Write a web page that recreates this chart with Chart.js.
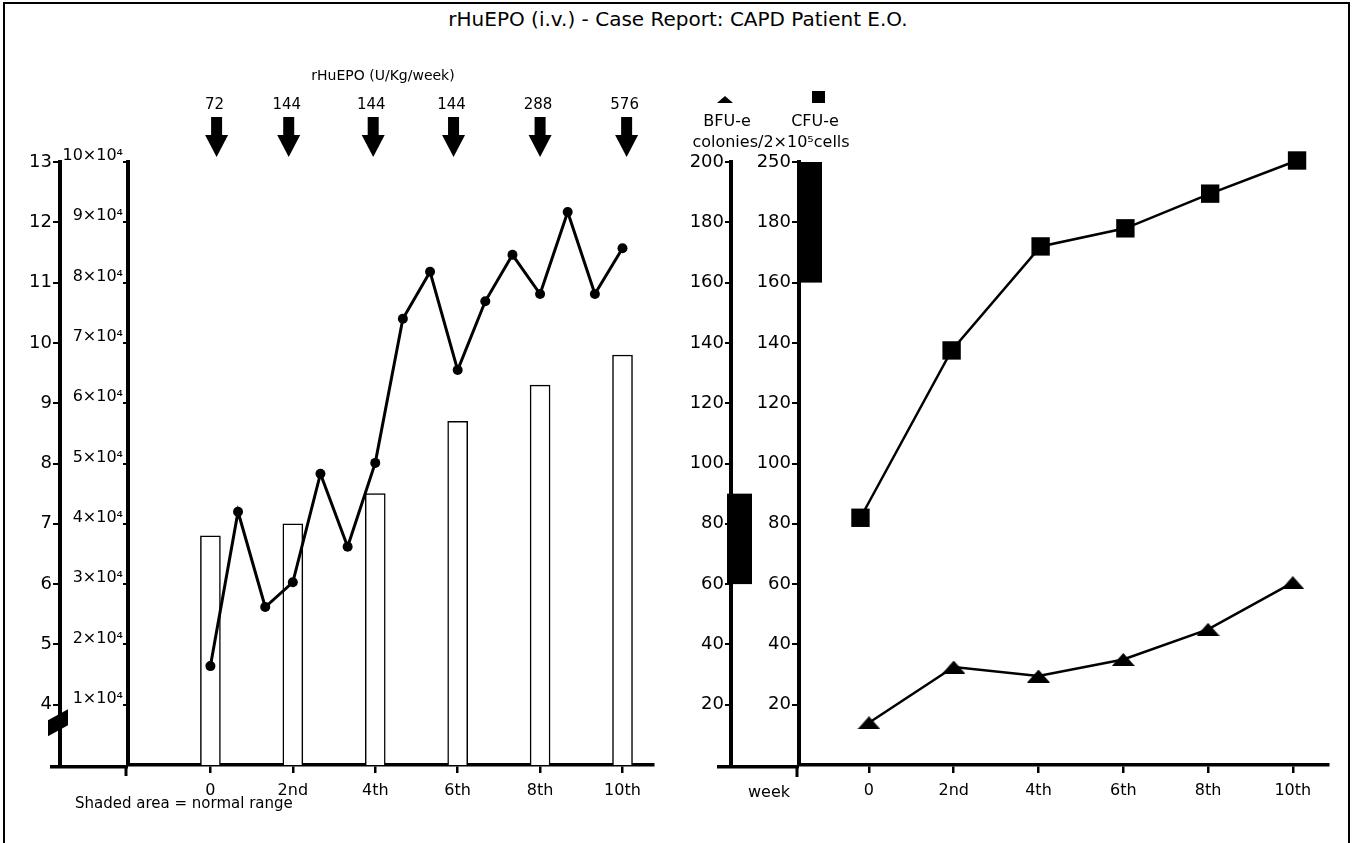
<!DOCTYPE html>
<html>
<head>
<meta charset="utf-8">
<title>rHuEPO case report</title>
<script src="https://cdn.jsdelivr.net/npm/chart.js@4.4.1/dist/chart.umd.min.js"></script>
<style>
  html, body { margin: 0; padding: 0; background: #fff; }
  body { width: 1356px; height: 843px; position: relative; overflow: hidden; font-family: "DejaVu Sans", sans-serif; color: #000; }
  #frame { position: absolute; left: 3px; top: 2px; width: 1343px; height: 870px; border: 2px solid #000; }
  canvas { position: absolute; left: 0; top: 0; }
  #title { position: absolute; top: 7px; left: 0; width: 1356px; text-align: center; font-size: 20px; }
  #note { position: absolute; left: 75px; top: 794px; font-size: 15px; }
</style>
</head>
<body>
<div id="frame"></div>
<div id="title">rHuEPO (i.v.) - Case Report: CAPD Patient E.O.</div>
<canvas id="left" width="1356" height="843"></canvas>
<canvas id="right" width="1356" height="843"></canvas>
<div id="note">Shaded area = normal range</div>
<script>
// weeks of treatment
const weekTicks = [0, 2, 4, 6, 8, 10];
const weekLabels = ["0", "2nd", "4th", "6th", "8th", "10th"];

// left panel: open bars (4-13 axis) and dotted line (x10^4 axis)
const hbWeeks = [0, 2, 4, 6, 8, 10];
const hbValues = [6.8, 7.0, 7.5, 8.7, 9.3, 9.8];
const retWeeks = [0, 0.67, 1.33, 2, 2.67, 3.33, 4, 4.67, 5.33, 6, 6.67, 7.33, 8, 8.67, 9.33, 10];
const retValues = [1.64, 4.2, 2.62, 3.03, 4.83, 3.62, 5.01, 7.4, 8.18, 6.55, 7.69, 8.46, 7.81, 9.17, 7.81, 8.57];
const hbTicks = [4, 5, 6, 7, 8, 9, 10, 11, 12, 13];
const retTicks = [1, 2, 3, 4, 5, 6, 7, 8, 9, 10];

// rHuEPO doses
const doseWeeks = [0.15, 1.9, 3.95, 5.9, 8.0, 10.1];
const doseLabels = ["72", "144", "144", "144", "288", "576"];

// right panel: colonies / 2x10^5 cells
const bfuWeeks = [0, 2, 4, 6, 8, 10];
const bfuValues = [14, 32.5, 29.5, 35, 45, 60.5];
const cfuWeeks = [-0.2, 1.95, 4.05, 6.05, 8.05, 10.1];
const cfuValues = [82, 137.5, 172, 178, 189.5, 200.5];
const bfuTicks = [20, 40, 60, 80, 100, 120, 140, 160, 180, 200];
const cfuTicks = [20, 40, 60, 80, 100, 120, 140, 160, 180, 200];
const cfuTickLabels = ["20", "40", "60", "80", "100", "120", "140", "160", "180", "250"];
// normal ranges (axis units; top of the CFU-e axis is the 250 mark)
const bfuNormal = [60, 90];
const cfuNormal = [160, 200];

const FONT = '"DejaVu Sans", sans-serif';
Chart.defaults.font.family = FONT;
Chart.defaults.color = "#000";

function pts(xs, ys) {
  return xs.map((x, i) => ({ x: x, y: ys[i] }));
}
function useTicks(list) {
  return function (scale) {
    scale.ticks = list.map((v) => ({ value: v }));
  };
}
function fixWidth(w) {
  return function (scale) {
    scale.width = w;
    scale.paddingTop = 0;
    scale.paddingBottom = 0;
  };
}
function fixHeight(h) {
  return function (scale) {
    scale.height = h;
    scale.paddingLeft = 0;
    scale.paddingRight = 0;
  };
}
function yAxis(opts) {
  return {
    type: "linear",
    position: "left",
    weight: opts.weight,
    min: opts.min,
    max: opts.max,
    afterBuildTicks: useTicks(opts.ticks),
    afterFit: fixWidth(opts.width),
    border: { display: true, color: "#000", width: 4 },
    grid: { drawOnChartArea: false, drawTicks: true, tickLength: opts.tickLength, color: "#000", lineWidth: 2 },
    ticks: {
      font: { size: opts.fontSize },
      padding: opts.padding,
      labelOffset: opts.labelOffset || 0,
      callback: opts.callback,
    },
  };
}
function weekAxis(min, max) {
  return {
    type: "linear",
    min: min,
    max: max,
    offset: false,
    afterBuildTicks: useTicks(weekTicks),
    afterFit: fixHeight(40),
    border: { display: true, color: "#000", width: 3.5 },
    grid: { offset: false, drawOnChartArea: false, drawTicks: true, tickLength: 8, color: "#000", lineWidth: 2.5 },
    ticks: {
      font: { size: 16 },
      padding: 8,
      maxRotation: 0,
      autoSkip: false,
      callback: (v) => weekLabels[weekTicks.indexOf(v)],
    },
  };
}

const leftExtras = {
  id: "leftExtras",
  afterDraw(chart) {
    const { ctx, chartArea, scales } = chart;
    const x = scales.x, yHb = scales.yHb, yRet = scales.yRet;
    ctx.save();
    ctx.fillStyle = "#000";
    ctx.strokeStyle = "#000";

    // baseline runs on under both y axes
    ctx.lineWidth = 3.5;
    ctx.beginPath();
    ctx.moveTo(yHb.right - 10, x.top + 1.75);
    ctx.lineTo(chartArea.left, x.top + 1.75);
    ctx.stroke();

    // second axis pokes below the baseline
    ctx.lineWidth = 3;
    ctx.beginPath();
    ctx.moveTo(yRet.right - 2, x.top);
    ctx.lineTo(yRet.right - 2, x.top + 11);
    ctx.stroke();

    // axis break mark
    const bx = yHb.right - 2, by = yHb.getPixelForValue(3.7);
    ctx.beginPath();
    ctx.moveTo(bx - 10, by - 2.5);
    ctx.lineTo(bx + 10, by - 13.5);
    ctx.lineTo(bx + 10, by + 2.5);
    ctx.lineTo(bx - 10, by + 13.5);
    ctx.closePath();
    ctx.fill();

    // dosing arrows
    ctx.textAlign = "center";
    ctx.textBaseline = "middle";
    ctx.font = "14px " + FONT;
    ctx.fillText("rHuEPO (U/Kg/week)", 383, 76);
    ctx.font = "15px " + FONT;
    doseWeeks.forEach((w, i) => {
      const cx = x.getPixelForValue(w);
      ctx.fillText(doseLabels[i], cx - 2, 105);
      ctx.fillRect(cx - 5.5, 117, 11, 19);
      ctx.beginPath();
      ctx.moveTo(cx - 11.5, 135);
      ctx.lineTo(cx + 11.5, 135);
      ctx.lineTo(cx, 157);
      ctx.closePath();
      ctx.fill();
    });
    ctx.restore();
  },
};

new Chart(document.getElementById("left"), {
  type: "line",
  data: {
    datasets: [
      {
        type: "line",
        data: pts(retWeeks, retValues),
        yAxisID: "yRet",
        borderColor: "#000",
        borderWidth: 3,
        tension: 0,
        pointRadius: 5,
        pointBorderWidth: 0,
        pointBackgroundColor: "#000",
        order: 0,
        clip: false,
      },
      {
        type: "bar",
        data: pts(hbWeeks, hbValues),
        yAxisID: "yHb",
        backgroundColor: "#fff",
        borderColor: "#000",
        borderWidth: 1.5,
        barThickness: 20,
        order: 1,
      },
    ],
  },
  options: {
    responsive: false,
    animation: false,
    events: [],
    layout: { padding: { left: 20, right: 703, top: 162, bottom: 38 } },
    plugins: { legend: { display: false }, tooltip: { enabled: false } },
    scales: {
      x: weekAxis(-2.0, 10.74),
      yHb: yAxis({ weight: 1, min: 3, max: 13, ticks: hbTicks, width: 40, tickLength: 7, padding: 1, fontSize: 18 }),
      yRet: yAxis({
        weight: 0, min: 0, max: 10, ticks: retTicks, width: 68, tickLength: 5, padding: 0, fontSize: 16,
        labelOffset: -6, callback: (v) => v + "×10⁴",
      }),
    },
  },
  plugins: [leftExtras],
});

// flat triangle marker
function triangleMarker(w, h) {
  const c = document.createElement("canvas");
  c.width = w;
  c.height = h;
  const g = c.getContext("2d");
  g.fillStyle = "#000";
  g.beginPath();
  g.moveTo(0, h);
  g.lineTo(w, h);
  g.lineTo(w / 2, 0);
  g.closePath();
  g.fill();
  return c;
}

const rightExtras = {
  id: "rightExtras",
  afterDraw(chart) {
    const { ctx, chartArea, scales } = chart;
    const x = scales.x, yB = scales.yBfu, yC = scales.yCfu;
    ctx.save();
    ctx.fillStyle = "#000";
    ctx.strokeStyle = "#000";

    // shaded normal ranges
    const b0 = yB.getPixelForValue(bfuNormal[1]), b1 = yB.getPixelForValue(bfuNormal[0]);
    ctx.fillRect(yB.right - 4, b0, 25, b1 - b0);
    const c0 = yC.getPixelForValue(cfuNormal[1]), c1 = yC.getPixelForValue(cfuNormal[0]);
    ctx.fillRect(yC.right - 2, c0, 25, c1 - c0);

    // baseline under the axes
    ctx.lineWidth = 3.5;
    ctx.beginPath();
    ctx.moveTo(yB.right - 14, x.top + 1.75);
    ctx.lineTo(chartArea.left, x.top + 1.75);
    ctx.stroke();
    ctx.lineWidth = 3;
    ctx.beginPath();
    ctx.moveTo(yC.right - 2, x.top);
    ctx.lineTo(yC.right - 2, x.top + 12);
    ctx.stroke();

    ctx.textAlign = "center";
    ctx.textBaseline = "middle";
    ctx.font = "16px " + FONT;
    ctx.fillText("week", 769, 793);

    // key
    ctx.font = "16px " + FONT;
    ctx.fillText("BFU-e", 727, 122);
    ctx.fillText("CFU-e", 815, 122);
    ctx.fillText("colonies/2×10⁵cells", 771, 143);
    ctx.beginPath();
    ctx.moveTo(717, 103);
    ctx.lineTo(733, 103);
    ctx.lineTo(725, 96);
    ctx.closePath();
    ctx.fill();
    ctx.fillRect(812, 91, 13, 12);
    ctx.restore();
  },
};

new Chart(document.getElementById("right"), {
  type: "line",
  data: {
    datasets: [
      {
        data: pts(cfuWeeks, cfuValues),
        yAxisID: "yCfu",
        borderColor: "#000",
        borderWidth: 2.5,
        tension: 0,
        pointStyle: "rect",
        pointRadius: 13,
        pointBorderWidth: 0,
        pointBackgroundColor: "#000",
        clip: false,
      },
      {
        data: pts(bfuWeeks, bfuValues),
        yAxisID: "yCfu",
        borderColor: "#000",
        borderWidth: 2.5,
        tension: 0,
        pointStyle: triangleMarker(23, 13),
        pointRadius: 12,
        pointBackgroundColor: "#000",
        clip: false,
      },
    ],
  },
  options: {
    responsive: false,
    animation: false,
    events: [],
    layout: { padding: { left: 680, right: 28, top: 162, bottom: 38 } },
    plugins: { legend: { display: false }, tooltip: { enabled: false } },
    scales: {
      x: weekAxis(-1.65, 10.83),
      yBfu: yAxis({ weight: 1, min: 0, max: 200, ticks: bfuTicks, width: 51, tickLength: 6, padding: 1, fontSize: 18 }),
      yCfu: yAxis({
        weight: 0, min: 0, max: 200, ticks: cfuTicks, width: 68, tickLength: 7, padding: 1, fontSize: 18,
        callback: (v) => cfuTickLabels[cfuTicks.indexOf(v)],
      }),
    },
  },
  plugins: [rightExtras],
});
</script>
</body>
</html>
